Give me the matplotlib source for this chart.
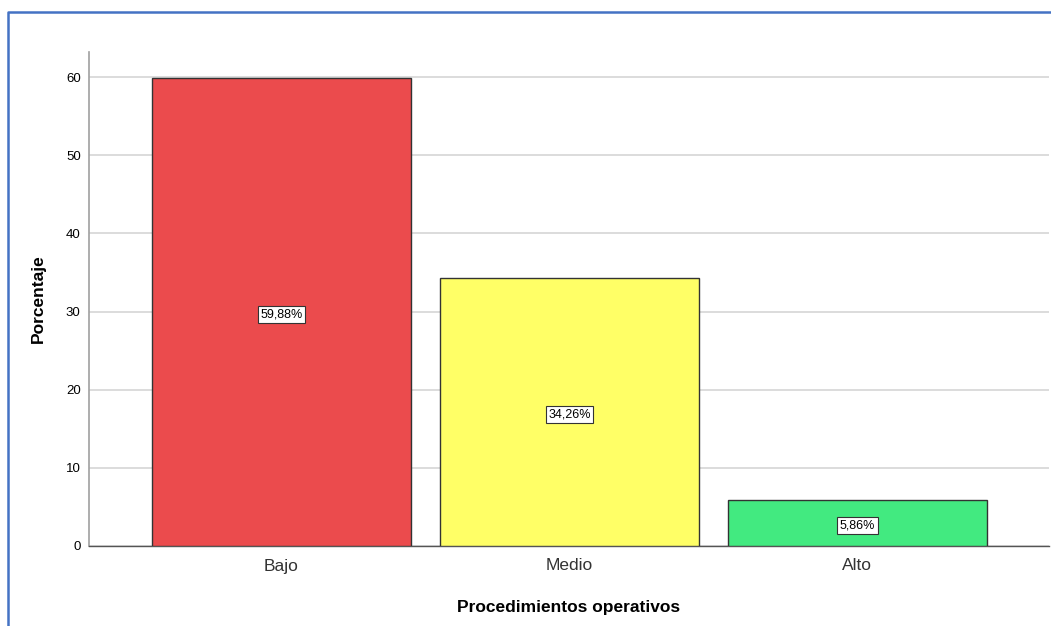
import matplotlib
matplotlib.use('Agg')
import matplotlib.pyplot as plt
from matplotlib.lines import Line2D

# datos
categorias = ["Bajo", "Medio", "Alto"]
porcentajes = [59.88, 34.26, 5.86]
etiquetas = ["59,88%", "34,26%", "5,86%"]
colores = ["#EB4B4D", "#FFFF66", "#42EA80"]
yticks = [0, 10, 20, 30, 40, 50, 60]

plt.rcParams['font.family'] = ['Liberation Sans', 'DejaVu Sans']

W, H = 1051, 626
fig = plt.figure(figsize=(W / 100, H / 100), dpi=100)
ax = fig.add_axes([89 / W, 1 - 546 / H, (1049 - 89) / W, (546 - 52) / H])

x = range(len(categorias))
ax.bar(x, porcentajes, width=0.9, color=colores, edgecolor="#333333",
       linewidth=1.0, zorder=3)

for xi, v, lab in zip(x, porcentajes, etiquetas):
    ax.text(xi, v / 2 - 0.3, lab, ha='center', va='center', fontsize=9, zorder=4,
            bbox=dict(boxstyle='square,pad=0.2', fc='white', ec='#333333', lw=0.8))

ax.set_xlim(-0.668, 2.665)
ax.set_ylim(0, 63.2)
ax.set_yticks(yticks)
ax.set_xticks(list(x))
ax.set_xticklabels(categorias, fontsize=12.5, color='#333333')
ax.tick_params(axis='y', length=0, labelsize=9.5, pad=6)
ax.tick_params(axis='x', length=0, pad=9)
ax.yaxis.grid(True, color='#D6D6D6', linewidth=1.2, zorder=0)
ax.set_axisbelow(True)

for s in ['top', 'right']:
    ax.spines[s].set_visible(False)
ax.spines['left'].set_color('#A0A0A0')
ax.spines['left'].set_linewidth(1.2)
ax.spines['bottom'].set_color('#555555')
ax.spines['bottom'].set_linewidth(1.0)

ax.set_ylabel("Porcentaje", fontsize=12.5, fontweight='bold', labelpad=14)
ax.set_xlabel("Procedimientos operativos", fontsize=12.5, fontweight='bold', labelpad=19)

# marco azul del recorte
fig.add_artist(Line2D([8 / W, 8 / W, 1.0], [0, 1 - 12 / H, 1 - 12 / H],
                      transform=fig.transFigure, color='#4472C4', lw=1.8))

fig.savefig("out.png", dpi=100)
